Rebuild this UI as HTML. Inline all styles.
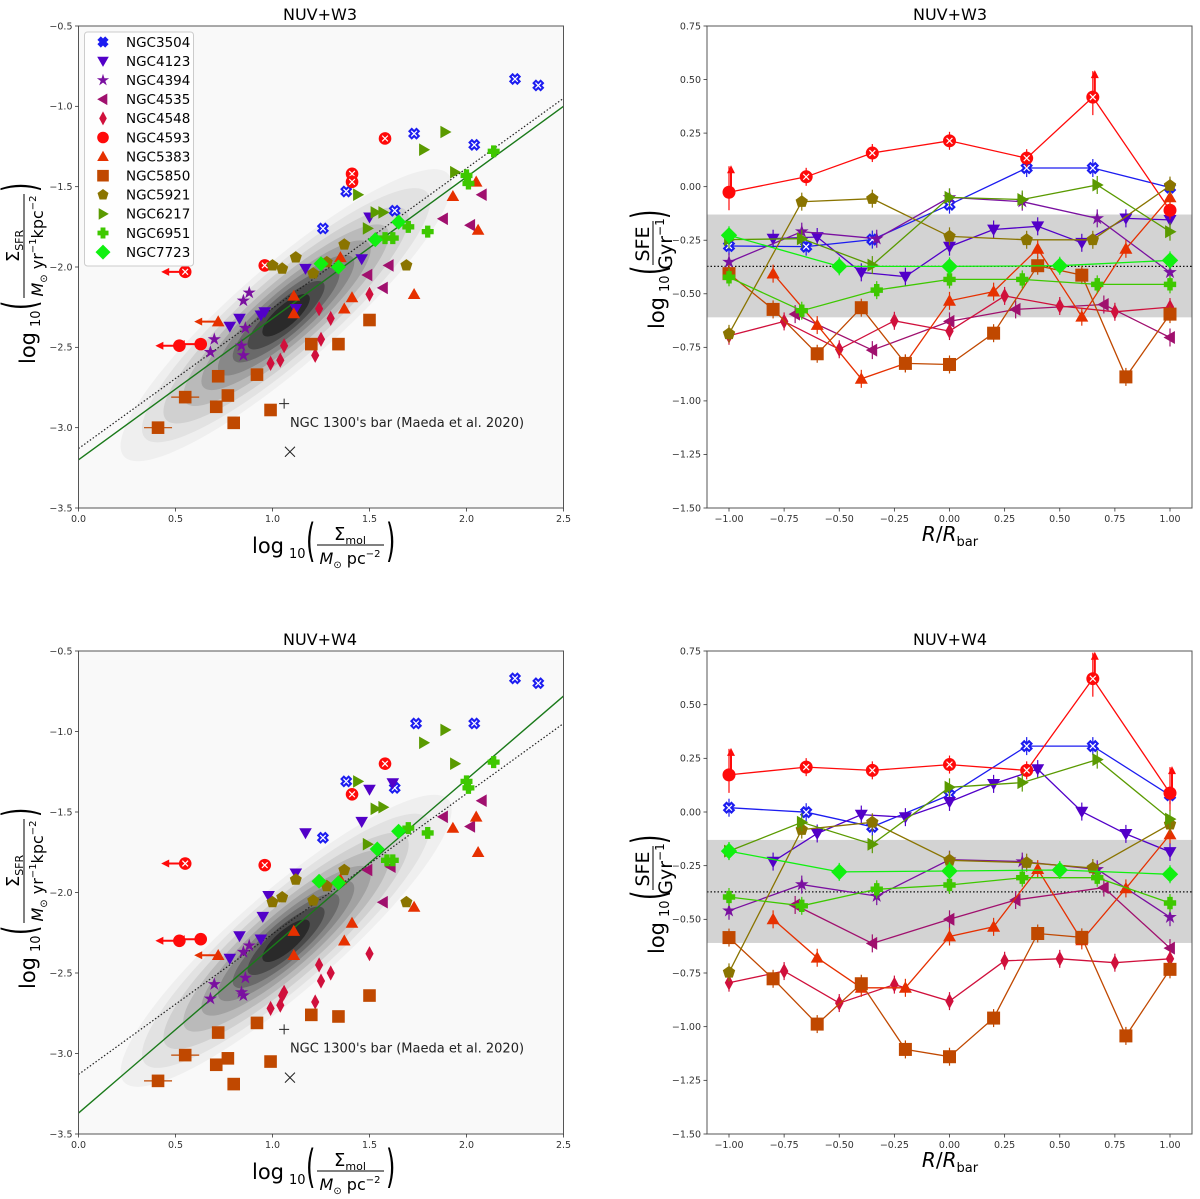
<!DOCTYPE html>
<html><head><meta charset="utf-8"><style>
html,body{margin:0;padding:0;background:#fff;}
svg{display:block;font-family:"DejaVu Sans","Liberation Sans",sans-serif;}
</style></head><body>
<svg id="fig" width="1200" height="1199" viewBox="0 0 1200 1199" xmlns="http://www.w3.org/2000/svg"></svg>
<script>
const galaxies = ['NGC3504','NGC4123','NGC4394','NGC4535','NGC4548','NGC4593','NGC5383','NGC5850','NGC5921','NGC6217','NGC6951','NGC7723'];
const colors = ['#1c1cf0','#5200c8','#7a10a0','#a0106e','#d0103c','#ff0a0a','#e63000','#c04800','#8a7400','#5a9a00','#3ec800','#10f010'];
const markers = ['X','v','*','<','d','o','^','s','p','>','P','D'];

// Left panel NUV+W3: log Sigma_mol (x) and log Sigma_SFR (y)
const w3MolX = [
 [2.25,2.37,1.73,2.04,1.38,1.26,1.63],
 [1.50,1.46,1.17,1.12,0.96,0.94,0.83,0.78],
 [0.88,0.85,0.86,0.70,0.84,0.68,0.85],
 [2.08,1.88,2.02,1.60,1.49,1.57],
 [1.50,1.24,1.30,1.25,1.06,1.22,0.99,1.04],
 [1.58,1.41,1.41,0.55,0.96,0.63,0.52],
 [2.05,1.93,2.06,1.73,1.41,1.37,1.35,1.11,1.11,0.72],
 [1.50,1.34,1.20,0.92,0.72,0.77,0.55,0.71,0.99,0.80,0.41],
 [1.69,1.37,1.12,1.00,1.05,1.21,1.28],
 [1.89,1.78,1.94,1.44,1.53,1.57,1.49],
 [2.14,2.00,2.01,1.70,1.80,1.58,1.62],
 [1.65,1.53,1.25,1.34]];
const w3SfrY = [
 [-0.83,-0.87,-1.17,-1.24,-1.53,-1.76,-1.65],
 [-1.69,-1.95,-2.01,-2.26,-2.28,-2.30,-2.32,-2.37],
 [-2.16,-2.21,-2.38,-2.45,-2.49,-2.53,-2.55],
 [-1.55,-1.70,-1.74,-1.99,-2.05,-2.13],
 [-2.17,-2.26,-2.32,-2.45,-2.49,-2.55,-2.60,-2.58],
 [-1.20,-1.42,-1.47,-2.03,-1.99,-2.48,-2.49],
 [-1.47,-1.56,-1.77,-2.17,-2.19,-2.26,-1.94,-2.18,-2.29,-2.34],
 [-2.33,-2.48,-2.48,-2.67,-2.68,-2.80,-2.81,-2.87,-2.89,-2.97,-3.00],
 [-1.99,-1.86,-1.94,-1.99,-2.01,-2.04,-1.97],
 [-1.16,-1.27,-1.41,-1.55,-1.66,-1.66,-1.76],
 [-1.28,-1.43,-1.48,-1.75,-1.78,-1.82,-1.82],
 [-1.72,-1.83,-1.98,-2.00]];
const w3Mark4593 = [1,1,1,1,1,0,0];
const w3Arrow4593 = [0,0,0,1,0,1,1];
const w3Arrow5383 = [0,0,0,0,0,0,0,0,0,1];

// Left panel NUV+W4
const w4MolX = [
 [2.25,2.37,1.74,2.04,1.38,1.26,1.63],
 [1.62,1.50,1.46,1.17,1.12,0.98,0.95,0.83,0.94,0.78],
 [0.88,0.85,0.86,0.70,0.84,0.68,0.85],
 [2.08,1.88,2.02,1.49,1.61,1.57],
 [1.50,1.24,1.30,1.25,1.06,1.05,1.22,0.99,1.04],
 [1.58,1.41,0.55,0.96,0.63,0.52],
 [2.05,1.93,2.06,1.73,1.41,1.37,1.35,1.11,1.11,0.72],
 [1.50,1.34,1.20,0.92,0.72,0.77,0.55,0.71,0.99,0.80,0.41],
 [1.69,1.37,1.12,1.00,1.05,1.21,1.28],
 [1.89,1.78,1.94,1.44,1.53,1.57,1.49],
 [2.14,2.00,2.01,1.70,1.80,1.59,1.62],
 [1.65,1.54,1.24,1.34]];
const w4SfrY = [
 [-0.67,-0.70,-0.95,-0.95,-1.31,-1.66,-1.35],
 [-1.32,-1.36,-1.56,-1.63,-1.88,-2.02,-2.15,-2.27,-2.29,-2.41],
 [-2.33,-2.37,-2.53,-2.57,-2.62,-2.66,-2.64],
 [-1.43,-1.53,-1.59,-1.86,-1.84,-2.06],
 [-2.38,-2.45,-2.50,-2.55,-2.62,-2.64,-2.68,-2.72,-2.70],
 [-1.20,-1.39,-1.82,-1.83,-2.29,-2.30],
 [-1.53,-1.60,-1.75,-2.09,-2.19,-2.30,-1.92,-2.24,-2.39,-2.39],
 [-2.64,-2.77,-2.76,-2.81,-2.87,-3.03,-3.01,-3.07,-3.05,-3.19,-3.17],
 [-2.06,-1.86,-1.92,-2.06,-2.03,-2.05,-1.96],
 [-0.99,-1.07,-1.20,-1.31,-1.48,-1.47,-1.70],
 [-1.19,-1.31,-1.35,-1.60,-1.63,-1.80,-1.80],
 [-1.62,-1.73,-1.93,-1.94]];
const w4Mark4593 = [1,1,1,1,0,0];
const w4Arrow4593 = [0,0,1,0,1,1];
const w4Arrow5383 = [0,0,0,0,0,0,0,0,0,1];

// fit lines [intercept, slope]
const w3FitGreen = [-3.20, 0.88];
const w3FitDotted = [-3.13, 0.872];
const w4FitGreen = [-3.37, 1.036];
const w4FitDotted = [-3.13, 0.872];
const refPlus = [1.06, -2.85];
const refCross = [1.09, -3.15];

// Right panels: R/Rbar (x) and log SFE (y)
const radX = [
 [-1,-0.65,-0.35,0,0.35,0.65,1],
 [-0.8,-0.6,-0.4,-0.2,0,0.2,0.4,0.6,0.8,1],
 [-1,-0.67,-0.33,0,0.33,0.67,1],
 [-0.7,-0.35,0,0.3,0.7,1],
 [-1,-0.75,-0.5,-0.25,0,0.25,0.5,0.75,1],
 [-1,-0.65,-0.35,0,0.35,0.65,1],
 [-0.8,-0.6,-0.4,-0.2,0,0.2,0.4,0.6,0.8,1],
 [-1,-0.8,-0.6,-0.4,-0.2,0,0.2,0.4,0.6,0.8,1],
 [-1,-0.67,-0.35,0,0.35,0.65,1],
 [-1,-0.67,-0.35,0,0.33,0.67,1],
 [-1,-0.67,-0.33,0,0.33,0.67,1],
 [-1,-0.5,0,0.5,1]];
const w3Sfe = [
 [-0.277,-0.28,-0.247,-0.084,0.087,0.087,-0.004],
 [-0.243,-0.235,-0.40,-0.42,-0.28,-0.20,-0.185,-0.262,-0.148,-0.155],
 [-0.352,-0.21,-0.243,-0.05,-0.07,-0.148,-0.40],
 [-0.595,-0.763,-0.629,-0.573,-0.55,-0.704],
 [-0.696,-0.629,-0.759,-0.626,-0.674,-0.51,-0.557,-0.584,-0.562],
 [-0.026,0.046,0.157,0.214,0.133,0.418,-0.11],
 [-0.406,-0.646,-0.897,-0.825,-0.533,-0.49,-0.29,-0.607,-0.29,-0.05],
 [-0.406,-0.573,-0.78,-0.565,-0.825,-0.83,-0.684,-0.369,-0.413,-0.888,-0.595],
 [-0.687,-0.07,-0.056,-0.232,-0.248,-0.248,0.005],
 [-0.247,-0.243,-0.366,-0.05,-0.06,0.008,-0.21],
 [-0.423,-0.579,-0.483,-0.433,-0.433,-0.456,-0.456],
 [-0.227,-0.372,-0.372,-0.369,-0.344]];
const w4Sfe = [
 [0.02,-0.001,-0.069,0.079,0.307,0.307,0.078],
 [-0.231,-0.10,-0.012,-0.024,0.047,0.131,0.20,0.002,-0.102,-0.186],
 [-0.46,-0.338,-0.392,-0.222,-0.231,-0.267,-0.49],
 [-0.433,-0.612,-0.50,-0.41,-0.352,-0.634],
 [-0.795,-0.741,-0.89,-0.804,-0.881,-0.693,-0.684,-0.702,-0.684],
 [0.173,0.209,0.194,0.221,0.194,0.621,0.088],
 [-0.50,-0.679,-0.819,-0.819,-0.58,-0.535,-0.266,-0.598,-0.356,-0.105],
 [-0.585,-0.777,-0.988,-0.80,-1.106,-1.14,-0.96,-0.566,-0.584,-1.043,-0.733],
 [-0.747,-0.082,-0.048,-0.225,-0.236,-0.261,-0.057],
 [-0.182,-0.048,-0.15,0.115,0.137,0.244,-0.033],
 [-0.396,-0.437,-0.36,-0.34,-0.306,-0.306,-0.424],
 [-0.182,-0.279,-0.275,-0.27,-0.29]];
const w3UpArrow4593 = [1,0,0,0,0,1,0];
const w4UpArrow4593 = [1,0,0,0,0,1,1];
const bandRange = [-0.61, -0.13];
const bandMean = [-0.372];

const leftTicksY = [-0.5,-1.0,-1.5,-2.0,-2.5,-3.0,-3.5];
const leftTicksX = [0.0,0.5,1.0,1.5,2.0,2.5];
const rightTicksY = [0.75,0.50,0.25,0.00,-0.25,-0.50,-0.75,-1.00,-1.25,-1.50];
const rightTicksX = [-1.00,-0.75,-0.50,-0.25,0.00,0.25,0.50,0.75,1.00];

const NS='http://www.w3.org/2000/svg';
const svg=document.getElementById('fig');
function el(tag,attrs,parent,text){const e=document.createElementNS(NS,tag);for(const k in attrs)e.setAttribute(k,attrs[k]);if(text!==undefined)e.textContent=text;(parent||svg).appendChild(e);return e;}
function mkAxis(fx0,fx1,px0,px1,fy0,fy1,py0,py1){return {x:v=>px0+(v-fx0)*(px1-px0)/(fx1-fx0),y:v=>py0+(v-fy0)*(py1-py0)/(fy1-fy0)};}
function paren(g,x,ch){return el('text',{'font-size':24,transform:`translate(${x},11) scale(1,1.9)`},g,ch);}

function marker(g,type,cx,cy,c,r,xmark){
  let e;
  if(type==='o'){e=el('circle',{cx,cy,r:r,fill:c},g);}
  else if(type==='s'){e=el('rect',{x:cx-r,y:cy-r,width:2*r,height:2*r,fill:c},g);}
  else if(type==='X'||type==='P'){
    const a=r*0.95,w=r*0.42;
    const p=`M${-w},${-a}H${w}V${-w}H${a}V${w}H${w}V${a}H${-w}V${w}H${-a}V${-w}H${-w}Z`;
    e=el('path',{d:p,fill:c,transform:`translate(${cx},${cy}) rotate(${type==='X'?45:0})`},g);
  } else {
    let pts=[];
    if(type==='v')pts=[[-r,-r*0.75],[r,-r*0.75],[0,r]];
    else if(type==='^')pts=[[-r,r*0.75],[r,r*0.75],[0,-r]];
    else if(type==='<')pts=[[-r,0],[r*0.75,-r],[r*0.75,r]];
    else if(type==='>')pts=[[r,0],[-r*0.75,-r],[-r*0.75,r]];
    else if(type==='d')pts=[[0,-r*1.2],[r*0.65,0],[0,r*1.2],[-r*0.65,0]];
    else if(type==='D')pts=[[0,-r*1.3],[r*1.3,0],[0,r*1.3],[-r*1.3,0]];
    else if(type==='p'){for(let i=0;i<5;i++){const t=-Math.PI/2+i*2*Math.PI/5;pts.push([r*Math.cos(t),r*Math.sin(t)]);}}
    else if(type==='*'){for(let i=0;i<10;i++){const t=-Math.PI/2+i*Math.PI/5;const rr=i%2?r*0.42:r*1.1;pts.push([rr*Math.cos(t),rr*Math.sin(t)]);}}
    e=el('polygon',{points:pts.map(p=>(cx+p[0]).toFixed(1)+','+(cy+p[1]).toFixed(1)).join(' '),fill:c},g);
  }
  if(xmark){const k=r*0.45;el('path',{d:`M${cx-k},${cy-k}L${cx+k},${cy+k}M${cx-k},${cy+k}L${cx+k},${cy-k}`,stroke:'#fff','stroke-width':1.2},g);}
  return e;
}

function ticks(ax,px0,px1,py0,py1,tx,ty,dec,g){
  for(const v of ty){const y=ax.y(v);el('line',{x1:px0-3.5,x2:px0,y1:y,y2:y,stroke:'#333','stroke-width':0.8},g);
    const t=el('text',{x:px0-6,y:y+3.3,'text-anchor':'end','font-size':9.5,fill:'#333'},g,v.toFixed(dec).replace('-','\u2212'));
    }
  for(const v of tx){const x=ax.x(v);el('line',{x1:x,x2:x,y1:py1,y2:py1+3.5,stroke:'#333','stroke-width':0.8},g);
    const t=el('text',{x:x,y:py1+14,'text-anchor':'middle','font-size':9.5,fill:'#333'},g,v.toFixed(dec).replace('-','\u2212'));
    }
}

function leftPanel(top,bottom,molX,sfrY,mark4593,arrow4593,arrow5383,fitG,fitD,title){
  const px0=78.5,px1=563.5;
  const ax=mkAxis(0,2.5,px0,px1,-0.5,-3.5,top,bottom);
  const g=el('g',{});
  
  
  el('defs',{},g).innerHTML=`<clipPath id="cl${top|0}"><rect x="${px0}" y="${top}" width="${px1-px0}" height="${bottom-top}"/></clipPath>`;
  const bg=el('rect',{x:px0,y:top,width:px1-px0,height:bottom-top,fill:'#f9f9f9'},g);
  
  const kg=el('g',{'clip-path':`url(#cl${top|0})`},g);
  
  const cx=ax.x(1.07),cy=ax.y(-2.30);
  const lev=[[1,'#efefef'],[0.87,'#e2e2e2'],[0.74,'#d0d0d0'],[0.62,'#bababa'],[0.51,'#a2a2a2'],[0.41,'#888'],[0.32,'#6a6a6a'],[0.23,'#4a4a4a'],[0.14,'#2a2a2a']];
  for(const [s,c] of lev){el('ellipse',{cx:cx,cy:cy,rx:215*s,ry:(46*s+4),fill:c,transform:`rotate(-41 ${cx} ${cy})`},kg);}
  const fg=el('line',{x1:ax.x(0),y1:ax.y(fitG[0]),x2:ax.x(2.5),y2:ax.y(fitG[0]+2.5*fitG[1]),stroke:'#1a7a1a','stroke-width':1.4},g);
  
  const fd=el('line',{x1:ax.x(0),y1:ax.y(fitD[0]),x2:ax.x(2.5),y2:ax.y(fitD[0]+2.5*fitD[1]),stroke:'#222','stroke-width':1.2,'stroke-dasharray':'1.5,2'},g);
  
  for(let gi=0;gi<galaxies.length;gi++){
    const sg=el('g',{},g);
    
    
    molX[gi].forEach((xv,i)=>{
      const x=ax.x(xv),y=ax.y(sfrY[gi][i]),c=colors[gi];
      let arr=0;
      if(gi===5)arr=arrow4593[i];
      if(gi===6)arr=arrow5383[i];
      if(arr){el('line',{x1:x,y1:y,x2:x-18,y2:y,stroke:c,'stroke-width':2},sg);el('polygon',{points:`${x-24},${y} ${x-16},${y-4} ${x-16},${y+4}`,fill:c},sg);}
      if(gi===7&&xv<0.6){el('line',{x1:x-14,x2:x+14,y1:y,y2:y,stroke:c,'stroke-width':1.2},sg);}
      const xm=(gi===0)||(gi===5&&mark4593[i]);
      const m=marker(sg,markers[gi],x,y,c,gi===11?5.8:6.3,xm);
      
      
    });
  }
  const rx=ax.x(refPlus[0]),ry=ax.y(refPlus[1]);
  el('path',{d:`M${rx-5},${ry}H${rx+5}M${rx},${ry-5}V${ry+5}`,stroke:'#222','stroke-width':1},g);
  const qx=ax.x(refCross[0]),qy=ax.y(refCross[1]);
  el('path',{d:`M${qx-5},${qy-5}L${qx+5},${qy+5}M${qx-5},${qy+5}L${qx+5},${qy-5}`,stroke:'#222','stroke-width':1},g);
  const at=el('text',{x:ax.x(1.09),y:ax.y(-2.97)+4,'font-size':13,fill:'#222'},g,"NGC 1300's bar (Maeda et al. 2020)");
  
  el('rect',{x:px0,y:top,width:px1-px0,height:bottom-top,fill:'none',stroke:'#555','stroke-width':1},g);
  ticks(ax,px0,px1,top,bottom,leftTicksX,leftTicksY,1,g);
  const tt=el('text',{x:320,y:top-6,'text-anchor':'middle','font-size':16,fill:'#000'},g,title);
  
  // y label
  const yl=el('g',{transform:`translate(24,${top+244}) rotate(-90)`},g);
  
  el('text',{x:-94,y:11,'font-size':21},yl,'log');
  el('text',{x:-57,y:16,'font-size':13},yl,'10');
  paren(yl,-40,'(');
  el('text',{x:24,y:-5,'font-size':18,'text-anchor':'middle'},yl).innerHTML='Σ<tspan font-size="11" dy="4">SFR</tspan>';
  el('line',{x1:-28,x2:76,y1:0,y2:0,stroke:'#000','stroke-width':1},yl);
  el('text',{x:24,y:19,'font-size':16,'text-anchor':'middle'},yl).innerHTML='<tspan font-style="italic">M</tspan><tspan font-size="10" dy="4">⊙</tspan><tspan dy="-4"> yr</tspan><tspan font-size="10" dy="-7">−1</tspan><tspan dy="7">kpc</tspan><tspan font-size="10" dy="-7">−2</tspan>';
  paren(yl,78,')');
  // x label
  const xl=el('g',{transform:`translate(318,${bottom+37})`},g);
  
  el('text',{x:-66,y:8,'font-size':21},xl,'log');
  el('text',{x:-29,y:13,'font-size':13},xl,'10');
  paren(xl,-12,'(');
  el('text',{x:32,y:-5,'font-size':18,'text-anchor':'middle'},xl).innerHTML='Σ<tspan font-size="11" dy="4">mol</tspan>';
  el('line',{x1:-1,x2:66,y1:0,y2:0,stroke:'#000','stroke-width':1},xl);
  el('text',{x:32,y:19,'font-size':16,'text-anchor':'middle'},xl).innerHTML='<tspan font-style="italic">M</tspan><tspan font-size="10" dy="4">⊙</tspan><tspan dy="-4"> pc</tspan><tspan font-size="10" dy="-7">−2</tspan>';
  paren(xl,68,')');
}

function rightPanel(top,bottom,sfe,upArrow,title){
  const fx0=707,fx1=1192;
  const ax=mkAxis(-1,1,729,1170,0.75,-1.5,top,bottom);
  const g=el('g',{});
  
  
  const band=el('rect',{x:fx0,y:ax.y(bandRange[1]),width:fx1-fx0,height:ax.y(bandRange[0])-ax.y(bandRange[1]),fill:'#d3d3d3'},g);
  
  const ml=el('line',{x1:fx0,x2:fx1,y1:ax.y(bandMean[0]),y2:ax.y(bandMean[0]),stroke:'#111','stroke-width':1.2,'stroke-dasharray':'1.5,2'},g);
  
  for(let gi=0;gi<galaxies.length;gi++){
    const sg=el('g',{},g);
    
    
    const c=colors[gi];
    const pts=radX[gi].map((xv,i)=>[ax.x(xv),ax.y(sfe[gi][i])]);
    el('polyline',{points:pts.map(p=>p[0].toFixed(1)+','+p[1].toFixed(1)).join(' '),fill:'none',stroke:c,'stroke-width':1.3},sg);
    pts.forEach((p,i)=>{
      const up=gi===5&&upArrow[i];
      const e=up?26:9;
      el('line',{x1:p[0],x2:p[0],y1:p[1]-e,y2:p[1]+(up?18:9),stroke:c,'stroke-width':1.2},sg);
      if(up){el('line',{x1:p[0]+2,x2:p[0]+2,y1:p[1],y2:p[1]-20,stroke:c,'stroke-width':2},sg);el('polygon',{points:`${p[0]+2},${p[1]-27} ${p[0]-2},${p[1]-19} ${p[0]+6},${p[1]-19}`,fill:c},sg);}
      const xm=(gi===0)||(gi===5&&i>0&&i<6);
      const m=marker(sg,markers[gi],p[0],p[1],c,gi===11?6.3:6.5,xm);
      
      
    });
  }
  el('rect',{x:fx0,y:top,width:fx1-fx0,height:bottom-top,fill:'none',stroke:'#555','stroke-width':1},g);
  ticks(ax,fx0,fx1,top,bottom,rightTicksX,rightTicksY,2,g);
  const tt=el('text',{x:950,y:top-6,'text-anchor':'middle','font-size':16,fill:'#000'},g,title);
  
  const yl=el('g',{transform:`translate(653,${top+241}) rotate(-90)`},g);
  
  el('text',{x:-62,y:11,'font-size':21},yl,'log');
  el('text',{x:-25,y:16,'font-size':13},yl,'10');
  paren(yl,-8,'(');
  el('text',{x:23,y:-4,'font-size':19,'text-anchor':'middle'},yl,'SFE');
  el('line',{x1:2,x2:46,y1:0,y2:0,stroke:'#000','stroke-width':1},yl);
  el('text',{x:23,y:19,'font-size':19,'text-anchor':'middle'},yl).innerHTML='Gyr<tspan font-size="12" dy="-8">−1</tspan>';
  paren(yl,48,')');
  const xl=el('text',{x:950,y:bottom+33,'text-anchor':'middle','font-size':20},g);
  xl.innerHTML='<tspan font-style="italic">R</tspan>/<tspan font-style="italic">R</tspan><tspan font-size="13" dy="5">bar</tspan>';
  
}

leftPanel(26,508,w3MolX,w3SfrY,w3Mark4593,w3Arrow4593,w3Arrow5383,w3FitGreen,w3FitDotted,'NUV+W3');
leftPanel(651,1134,w4MolX,w4SfrY,w4Mark4593,w4Arrow4593,w4Arrow5383,w4FitGreen,w4FitDotted,'NUV+W4');
rightPanel(26,508,w3Sfe,w3UpArrow4593,'NUV+W3');
rightPanel(651,1134,w4Sfe,w4UpArrow4593,'NUV+W4');

const lg=el('g',{});


el('rect',{x:84.5,y:32,width:109,height:234,rx:3,fill:'#fff','fill-opacity':0.85,stroke:'#ccc'},lg);
galaxies.forEach((n,i)=>{
  const y=42+i*19.1;
  const eg=el('g',{},lg);
  
  
  marker(eg,markers[i],103,y,colors[i],5.8,false);
  el('text',{x:126,y:y+4.8,'font-size':13.5,fill:'#000'},eg,n);
});
</script>
</body></html>
